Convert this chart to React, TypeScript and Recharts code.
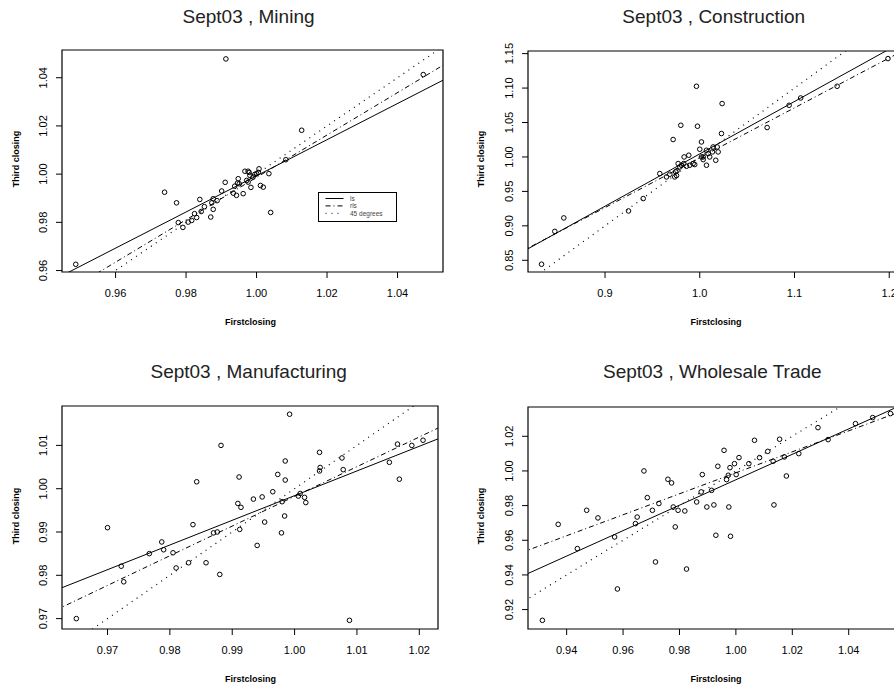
import React from 'react';
import { ScatterChart, Scatter, XAxis, YAxis, ReferenceLine, ReferenceArea, Legend } from 'recharts';

// ---------- Data ----------
const miningFirst = [0.9487, 0.9913, 0.9739, 0.9773, 0.9778, 0.9791, 0.9806, 0.9816, 0.9824, 0.983, 0.9839, 0.9843, 0.9852, 0.987, 0.9873, 0.9877, 0.9877, 0.9888, 0.9901, 0.9911, 0.9934, 0.9938, 0.9943, 0.9946, 0.9948, 0.9951, 0.9962, 0.9967, 0.9972, 0.9976, 0.9976, 0.9979, 0.9981, 0.9984, 0.999, 0.9995, 1.0, 1.0005, 1.0007, 1.0011, 1.0019, 1.0035, 1.004, 1.0083, 1.0128, 1.0473];
const miningThird = [0.9626, 1.0478, 0.9925, 0.9881, 0.9799, 0.9779, 0.9801, 0.9808, 0.9836, 0.982, 0.9895, 0.9845, 0.9865, 0.9822, 0.9881, 0.9854, 0.9898, 0.989, 0.993, 0.9966, 0.9921, 0.995, 0.9912, 0.9963, 0.9981, 0.996, 0.9919, 1.0012, 0.9974, 1.0012, 0.9967, 1.0007, 0.9995, 0.9945, 0.9988, 0.9999, 1.0002, 1.0007, 1.0022, 0.9953, 0.9946, 1.0002, 0.9841, 1.006, 1.0182, 1.0413];

const constructionFirst = [0.833, 0.847, 0.8565, 0.9248, 0.9403, 0.9578, 0.9649, 0.9684, 0.9719, 0.9736, 0.9745, 0.9755, 0.976, 0.9772, 0.979, 0.98, 0.9807, 0.9831, 0.9835, 0.986, 0.9884, 0.9895, 0.993, 0.9947, 0.9965, 0.9976, 1.0, 1.0018, 1.0018, 1.0036, 1.0036, 1.0071, 1.0071, 1.0089, 1.0105, 1.0134, 1.0141, 1.0169, 1.0184, 1.0194, 1.0229, 1.0236, 1.0711, 1.0943, 1.1065, 1.145, 1.1987];
const constructionThird = [0.8443, 0.892, 0.9115, 0.9216, 0.9396, 0.9759, 0.971, 0.9749, 1.0253, 0.971, 0.9785, 0.973, 0.98, 0.9904, 0.9855, 1.046, 0.988, 0.9904, 1.0, 0.9865, 1.0025, 0.988, 0.9904, 0.989, 1.1026, 1.0446, 1.0112, 1.0218, 1.0, 0.9962, 1.0, 0.988, 1.0097, 1.0049, 1.0, 1.0073, 1.0145, 0.9952, 1.0145, 1.0073, 1.034, 1.0775, 1.0427, 1.075, 1.0856, 1.1026, 1.1428];

const manufacturingFirst = [0.965, 0.97, 0.9722, 0.9726, 0.9767, 0.9787, 0.979, 0.9805, 0.981, 0.983, 0.9837, 0.9843, 0.9858, 0.987, 0.9876, 0.988, 0.9882, 0.9909, 0.9911, 0.9912, 0.9914, 0.9934, 0.994, 0.9948, 0.9952, 0.9965, 0.9973, 0.9979, 0.998, 0.9984, 0.9985, 0.9985, 0.9992, 1.0006, 1.0009, 1.0016, 1.0018, 1.004, 1.0041, 1.004, 1.0076, 1.0078, 1.0088, 1.0152, 1.0165, 1.0168, 1.0188, 1.0206];
const manufacturingThird = [0.97, 0.991, 0.9821, 0.9785, 0.985, 0.9877, 0.9859, 0.9852, 0.9817, 0.9829, 0.9917, 1.0016, 0.9829, 0.9898, 0.99, 0.9802, 1.01, 0.9966, 1.0027, 0.9906, 0.9957, 0.9976, 0.9869, 0.9981, 0.9923, 0.9993, 1.0033, 0.9898, 0.997, 0.9937, 1.0064, 1.002, 1.0172, 0.9983, 0.9989, 0.998, 0.9968, 1.0084, 1.0049, 1.0041, 1.0071, 1.0044, 0.9696, 1.0061, 1.0103, 1.0022, 1.01, 1.0112];

const wholesaleFirst = [0.9314, 0.937, 0.9438, 0.9471, 0.9511, 0.957, 0.958, 0.9644, 0.965, 0.9674, 0.9686, 0.9704, 0.9715, 0.9727, 0.9759, 0.9772, 0.9778, 0.9785, 0.9795, 0.9819, 0.9825, 0.9861, 0.9877, 0.9881, 0.9897, 0.9914, 0.9922, 0.9929, 0.9936, 0.9958, 0.9967, 0.9973, 0.9975, 0.9979, 0.9981, 0.9995, 1.0001, 1.0011, 1.0046, 1.0066, 1.0084, 1.0113, 1.0132, 1.0135, 1.0155, 1.0172, 1.0179, 1.0223, 1.0291, 1.0327, 1.0424, 1.0485, 1.0548];
const wholesaleThird = [0.9138, 0.9692, 0.9552, 0.9773, 0.9729, 0.9619, 0.9319, 0.9696, 0.9734, 1.0, 0.9846, 0.9773, 0.9475, 0.9812, 0.9952, 0.9931, 0.9792, 0.9677, 0.9773, 0.9769, 0.9434, 0.9821, 0.9879, 0.9979, 0.9792, 0.9888, 0.9804, 0.9629, 1.0027, 1.0119, 0.995, 0.9975, 0.9792, 1.0019, 0.9623, 1.0042, 0.9979, 1.0077, 1.0042, 1.0177, 1.0077, 1.0113, 1.0056, 0.9804, 1.0183, 1.0081, 0.9971, 1.01, 1.025, 1.0181, 1.0273, 1.0308, 1.0331];

// fitted lines: two end points [x, y] each
const miningLs = [[0.94, 0.9543], [1.06, 1.0443]];
const miningRls = [[0.94, 0.9459], [1.06, 1.0514]];
const constructionLs = [[0.8, 0.8525], [1.22, 1.1717]];
const constructionRls = [[0.8, 0.8541], [1.22, 1.1582]];
const manufacturingLs = [[0.96, 0.9756], [1.03, 1.0155]];
const manufacturingRls = [[0.96, 0.9708], [1.03, 1.0188]];
const wholesaleLs = [[0.92, 0.9362], [1.07, 1.0463]];
const wholesaleRls = [[0.92, 0.9505], [1.07, 1.0413]];
const diag = [[0.8, 0.8], [1.25, 1.25]];

// ticks
const miningXTicks = [0.96, 0.98, 1.0, 1.02, 1.04];
const miningYTicks = [0.96, 0.98, 1.0, 1.02, 1.04];
const constructionXTicks = [0.9, 1.0, 1.1, 1.2];
const constructionYTicks = [0.85, 0.9, 0.95, 1.0, 1.05, 1.1, 1.15];
const manufacturingXTicks = [0.97, 0.98, 0.99, 1.0, 1.01, 1.02];
const manufacturingYTicks = [0.97, 0.98, 0.99, 1.0, 1.01];
const wholesaleXTicks = [0.94, 0.96, 0.98, 1.0, 1.02, 1.04];
const wholesaleYTicks = [0.92, 0.94, 0.96, 0.98, 1.0, 1.02];

const legendLabels = ['ls', 'rls', '45 degrees'];
const titles = ['Sept03 , Mining', 'Sept03 , Construction', 'Sept03 , Manufacturing', 'Sept03 , Wholesale Trade'];
const xLabel = 'Firstclosing';
const yLabel = 'Third closing';

// ---------- Styling ----------
const tickFont: React.CSSProperties = {
  fontFamily: '"Liberation Sans Narrow", "Arial Narrow", "Liberation Sans", Arial, sans-serif',
  fontSize: 11,
  fill: '#000',
};
const XH = 40;
const RLS_DASH = '5 3 1 3';
const DIAG_DASH = '1 5';

const zip = (xs: number[], ys: number[]) => xs.map((x, i) => ({ x, y: ys[i] }));
const seg = (p: number[][]) => [{ x: p[0][0], y: p[0][1] }, { x: p[1][0], y: p[1][1] }];

const makeXTick = (digits: number) => (props: any) => {
  const { x, y, payload } = props;
  return (
    <text x={x} y={y + 19} textAnchor="middle" style={tickFont}>
      {Number(payload.value).toFixed(digits)}
    </text>
  );
};
const makeYTick = (digits: number) => (props: any) => {
  const { x, y, payload } = props;
  const bx = x - 9;
  return (
    <text x={bx} y={y} textAnchor="middle" transform={`rotate(-90, ${bx}, ${y})`} style={tickFont}>
      {Number(payload.value).toFixed(digits)}
    </text>
  );
};

const LegendBox = () => (
  <svg width={80} height={31} style={{ display: 'block' }}>
    <rect x={0.5} y={0.5} width={78} height={29} fill="#fff" stroke="#000" strokeWidth={1} />
    {legendLabels.map((lab, i) => {
      const yy = 6.5 + i * 7.4;
      const dash = i === 0 ? undefined : i === 1 ? RLS_DASH : DIAG_DASH;
      return (
        <g key={lab}>
          <line x1={7.5} x2={25.5} y1={yy} y2={yy} stroke="#000" strokeWidth={1} strokeDasharray={dash} />
          <text x={32} y={yy + 2.2} style={{ fontFamily: '"Liberation Sans", Arial, sans-serif', fontSize: 6.5, fill: '#444' }}>
            {lab}
          </text>
        </g>
      );
    })}
  </svg>
);

type PanelProps = {
  left: number; top: number; width: number; height: number;
  plot: { l: number; t: number; r: number; b: number };
  xDomain: [number, number]; yDomain: [number, number];
  xTicks: number[]; yTicks: number[]; xDigits: number; yDigits: number;
  first: number[]; third: number[];
  ls: number[][]; rls: number[][];
  legend?: { left: number; top: number };
};

function Panel(p: PanelProps) {
  const data = zip(p.first, p.third);
  const margin = {
    top: p.plot.t - p.top,
    right: p.left + p.width - p.plot.r,
    bottom: p.top + p.height - p.plot.b - XH,
    left: 0,
  };
  return (
    <div style={{ position: 'absolute', left: p.left, top: p.top }}>
      <ScatterChart width={p.width} height={p.height} margin={margin}>
        <XAxis
          type="number" dataKey="x" domain={p.xDomain} ticks={p.xTicks} interval={0}
          allowDataOverflow height={XH} axisLine={false} tickSize={6} tickMargin={0}
          tickLine={{ stroke: '#000' }} tick={makeXTick(p.xDigits)}
        />
        <YAxis
          type="number" dataKey="y" domain={p.yDomain} ticks={p.yTicks} interval={0}
          allowDataOverflow width={p.plot.l - p.left} axisLine={false} tickSize={6} tickMargin={0}
          tickLine={{ stroke: '#000' }} tick={makeYTick(p.yDigits)}
        />
        <ReferenceLine segment={seg(diag)} stroke="#000" strokeWidth={1.2} strokeDasharray={DIAG_DASH} ifOverflow="hidden" />
        <ReferenceLine segment={seg(p.rls)} stroke="#000" strokeWidth={1} strokeDasharray={RLS_DASH} ifOverflow="hidden" />
        <ReferenceLine segment={seg(p.ls)} stroke="#000" strokeWidth={1} ifOverflow="hidden" />
        <Scatter
          data={data} isAnimationActive={false}
          shape={(s: any) => <circle cx={s.cx} cy={s.cy} r={2.3} fill="none" stroke="#000" strokeWidth={1} />}
        />
        <ReferenceArea
          x1={p.xDomain[0]} x2={p.xDomain[1]} y1={p.yDomain[0]} y2={p.yDomain[1]}
          fill="none" fillOpacity={0} stroke="#000" strokeWidth={1.2} strokeOpacity={1} ifOverflow="visible"
        />
        {p.legend && (
          <Legend
            layout="horizontal" verticalAlign="middle" align="center"
            wrapperStyle={{ left: p.legend.left, top: p.legend.top, width: 80, height: 31 }}
            content={() => <LegendBox />}
          />
        )}
      </ScatterChart>
    </div>
  );
}

const panels: PanelProps[] = [
  {
    left: 0, top: 0, width: 447, height: 340,
    plot: { l: 62, t: 50, r: 443, b: 272 },
    xDomain: [0.9448, 1.0529], yDomain: [0.9594, 1.0515],
    xTicks: miningXTicks, yTicks: miningYTicks, xDigits: 2, yDigits: 2,
    first: miningFirst, third: miningThird, ls: miningLs, rls: miningRls,
    legend: { left: 318, top: 192 },
  },
  {
    left: 447, top: 0, width: 460, height: 340,
    plot: { l: 528, t: 51, r: 902.5, b: 272 },
    xDomain: [0.8187, 1.214], yDomain: [0.833, 1.1538],
    xTicks: constructionXTicks, yTicks: constructionYTicks, xDigits: 1, yDigits: 2,
    first: constructionFirst, third: constructionThird, ls: constructionLs, rls: constructionRls,
  },
  {
    left: 0, top: 340, width: 447, height: 348,
    plot: { l: 62, t: 406, r: 438, b: 629 },
    xDomain: [0.9627, 1.023], yDomain: [0.9676, 1.0191],
    xTicks: manufacturingXTicks, yTicks: manufacturingYTicks, xDigits: 2, yDigits: 2,
    first: manufacturingFirst, third: manufacturingThird, ls: manufacturingLs, rls: manufacturingRls,
  },
  {
    left: 447, top: 340, width: 460, height: 348,
    plot: { l: 528, t: 407, r: 904, b: 629 },
    xDomain: [0.9263, 1.0596], yDomain: [0.9088, 1.0369],
    xTicks: wholesaleXTicks, yTicks: wholesaleYTicks, xDigits: 2, yDigits: 2,
    first: wholesaleFirst, third: wholesaleThird, ls: wholesaleLs, rls: wholesaleRls,
  },
];

const titlePos = [[248.5, 23.3], [713.7, 23.3], [248.7, 378.3], [712.3, 378.3]];
const xLabelPos = [[250.5, 325], [716, 325], [250.5, 681.5], [716, 681.5]];
const yLabelPos = [[18.7, 159], [484, 159], [18.7, 516], [484, 516]];

export default function App() {
  const labelFont = { fontFamily: '"Liberation Sans", Arial, sans-serif', fontSize: 9, fontWeight: 700, fill: '#000' } as React.CSSProperties;
  return (
    <div style={{ position: 'fixed', left: 0, top: 0, width: 894, height: 688, overflow: 'hidden', background: '#fff' }}>
      {panels.map((p, i) => (
        <Panel key={i} {...p} />
      ))}
      <svg width={894} height={688} style={{ position: 'absolute', left: 0, top: 0, pointerEvents: 'none' }}>
        {titles.map((t, i) => (
          <text key={t} x={titlePos[i][0]} y={titlePos[i][1]} textAnchor="middle"
            style={{ fontFamily: '"Liberation Sans", Arial, sans-serif', fontSize: 19, fill: '#222' }}>
            {t}
          </text>
        ))}
        {xLabelPos.map((pos, i) => (
          <text key={'x' + i} x={pos[0]} y={pos[1]} textAnchor="middle" style={labelFont}>{xLabel}</text>
        ))}
        {yLabelPos.map((pos, i) => (
          <text key={'y' + i} x={pos[0]} y={pos[1]} textAnchor="middle" transform={`rotate(-90, ${pos[0]}, ${pos[1]})`} style={labelFont}>
            {yLabel}
          </text>
        ))}
      </svg>
    </div>
  );
}
